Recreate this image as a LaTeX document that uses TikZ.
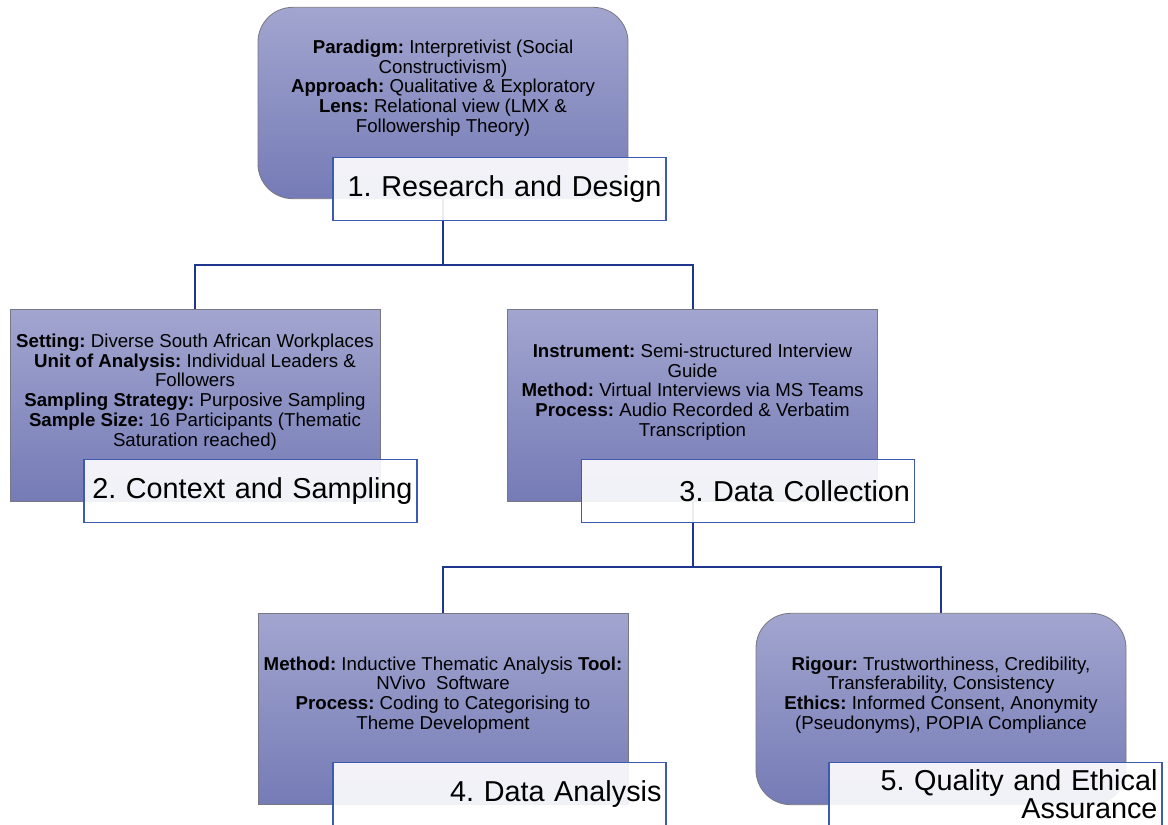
\documentclass[tikz,border=0pt]{standalone}
\usepackage{fontspec}
\setmainfont{Liberation Sans}
\begin{document}
\begin{tikzpicture}[x=0.75pt,y=-0.75pt,
  box/.style={draw=boxborder, line width=0.6pt, top color=boxtop, bottom color=boxbot,
    minimum width=277.5pt, minimum height=143.5pt, inner sep=0pt},
  rbox/.style={box, rounded corners=26pt},
  body/.style={align=center, font=\frenchspacing\fontsize{14pt}{14.8pt}\selectfont, inner sep=0pt, text=black},
  lab/.style={draw=labborder, line width=0.9pt, fill=white, fill opacity=0.9, text opacity=1,
    minimum height=47.25pt, text width=243pt, inner xsep=3.4pt, inner ysep=0pt, align=right,
    font=\frenchspacing\fontsize{21.6pt}{21pt}\selectfont},
  conn/.style={draw=connblue, line width=1.5pt}]
\definecolor{boxtop}{RGB}{162,165,207}
\definecolor{boxbot}{RGB}{117,123,182}
\definecolor{boxborder}{RGB}{120,120,130}
\definecolor{labborder}{RGB}{60,90,175}
\definecolor{connblue}{RGB}{30,55,140}
\useasboundingbox (0,0) rectangle (1168,825);
% box positions
\coordinate (c1) at (443,103);
\coordinate (c2) at (195,405.5);
\coordinate (c3) at (692.5,405.5);
\coordinate (c4) at (443,709);
\coordinate (c5) at (941,709);
% placeholders so connectors can be drawn beneath the boxes
\path (c1) node[minimum width=277.5pt, minimum height=143.5pt] (p1) {}
      (c2) node[minimum width=277.5pt, minimum height=143.5pt] (p2) {}
      (c3) node[minimum width=277.5pt, minimum height=143.5pt] (p3) {}
      (c4) node[minimum width=277.5pt, minimum height=143.5pt] (p4) {}
      (c5) node[minimum width=277.5pt, minimum height=143.5pt] (p5) {};
\coordinate (j1) at (443,265);
\coordinate (j2) at (692.5,567);
\draw[conn] (p1.center) -- (p1.center |- j1) -| (p2.north);
\draw[conn] (p1.center |- j1) -| (p3.north);
\draw[conn] (p3.center) -- (p3.center |- j2) -| (p4.north);
\draw[conn] (p3.center |- j2) -| (p5.north);
% boxes
\node[rbox] (b1) at (c1) {};
\node[box] (b2) at (c2) {};
\node[box] (b3) at (c3) {};
\node[box] (b4) at (c4) {};
\node[rbox] (b5) at (c5) {};
% body texts
\node[body] (t1) at (443,88) {\textbf{Paradigm:} Interpretivist (Social\\Constructivism)\\\textbf{Approach:} Qualitative \& Exploratory\\\textbf{Lens:} Relational view (LMX \&\\Followership Theory)};
\node[body] (t2) at (195,392) {\textbf{Setting:} Diverse South African Workplaces\\\textbf{Unit of Analysis:} Individual Leaders \&\\Followers\\\textbf{Sampling Strategy:} Purposive Sampling\\\textbf{Sample Size:} 16 Participants (Thematic\\Saturation reached)};
\node[body] (t3) at (692.5,392) {\textbf{Instrument:} Semi-structured Interview\\Guide\\\textbf{Method:} Virtual Interviews via MS Teams\\\textbf{Process:} Audio Recorded \& Verbatim\\Transcription};
\node[body] (t4) at (443,695) {\textbf{Method:} Inductive Thematic Analysis \textbf{Tool:}\\NVivo\ \ Software\\\textbf{Process:} Coding to Categorising to\\Theme Development};
\node[body] (t5) at (941,695) {\textbf{Rigour:} Trustworthiness, Credibility,\\Transferability, Consistency\\\textbf{Ethics:} Informed Consent, Anonymity\\(Pseudonyms), POPIA Compliance};
% labels
\node[lab] (l1) at (499.5,189) {1. Research and Design};
\node[lab] (l2) at (250.5,491) {2. Context and Sampling};
\node[lab] (l3) at (748,491) {3. Data Collection};
\node[lab] (l4) at (499.5,794) {4. Data Analysis};
\node[lab] (l5) at (995.5,794) {5. Quality and Ethical\\Assurance};
\end{tikzpicture}
\end{document}
